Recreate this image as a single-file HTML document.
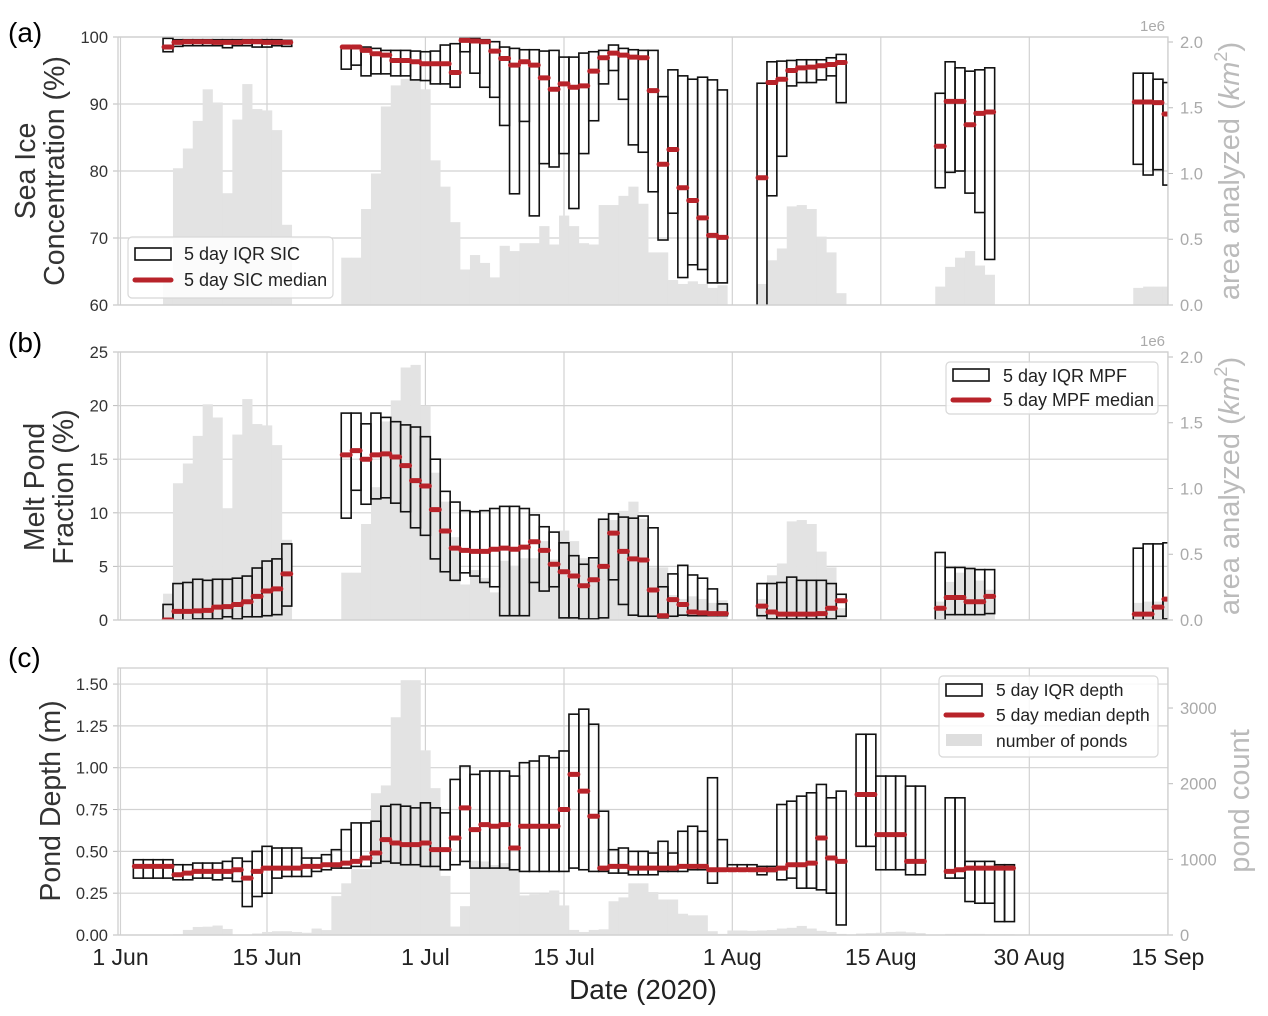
<!DOCTYPE html>
<html><head><meta charset="utf-8">
<style>
html,body{margin:0;padding:0;background:#fff;}
svg{display:block;font-family:"Liberation Sans",Arial,sans-serif;}
</style></head>
<body>
<svg id="fig" width="1268" height="1016" viewBox="0 0 1268 1016" xmlns="http://www.w3.org/2000/svg">
<defs>
<clipPath id="clipA"><rect x="118" y="37" width="1050" height="268"/></clipPath>
<clipPath id="clipB"><rect x="118" y="352" width="1050" height="268"/></clipPath>
<clipPath id="clipC"><rect x="118" y="668" width="1050" height="267"/></clipPath>
</defs>
<g id="root"></g>
</svg>
<script>
// ---------- shared x axis ----------
const tickLabels = ["1 Jun","15 Jun","1 Jul","15 Jul","1 Aug","15 Aug","30 Aug","15 Sep"];
const tickDays = [-0.8,14,30,44,61,76,91,105];

// ---------- panel (a) SIC ----------
const sicDays = [4,5,6,7,8,9,10,11,12,13,14,15,16,
 22,23,24,25,26,27,28,29,30,31,32,33,34,35,36,37,38,39,40,41,42,43,44,45,46,47,48,49,50,51,52,53,54,55,56,57,58,59,60,
 64,65,66,67,68,69,70,71,72, 82,83,84,85,86,87, 102,103,104,105];
const sicQ3 = [99.8,99.6,99.6,99.6,99.6,99.6,99.6,99.6,99.6,99.6,99.6,99.6,99.5,
 98.6,98.6,98.5,98.3,98.0,98.0,98.0,97.9,97.8,97.9,98.8,99.0,99.8,99.8,99.6,99.3,98.5,98.3,98.1,98.1,97.9,98.0,97.0,97.0,97.6,97.8,98.0,98.8,
 98.3,98.1,98.0,98.0,91.1,95.1,94.2,93.7,94.0,93.6,92.1,
 93.1,96.3,96.4,96.5,96.6,96.6,96.6,96.9,97.4, 91.6,96.3,95.4,94.9,95.1,95.4, 94.6,94.6,93.7,93.2];
const sicQ1 = [97.8,98.6,98.7,98.7,98.7,98.7,98.4,98.7,98.7,98.5,98.5,98.7,98.6,
 95.2,95.8,94.2,94.5,94.5,94.2,94.2,93.6,93.5,93.0,93.0,92.5,97.8,94.6,92.5,91.0,86.8,76.6,87.4,73.3,81.1,80.6,82.6,74.4,82.6,87.5,93.0,95.0,
 90.7,83.9,82.8,76.9,69.7,73.7,64.1,66.0,65.3,63.3,63.3,
 55,76.3,82.2,92.7,93.2,93.2,93.6,94.2,90.2, 77.5,79.8,80.0,76.7,73.8,66.8, 81.0,79.4,80.2,77.9];
const sicMed = [98.5,99.2,99.3,99.3,99.3,99.2,99.2,99.2,99.3,99.3,99.2,99.2,99.2,
 98.5,98.5,98.0,97.5,97.3,96.5,96.5,96.3,96.0,96.0,96.0,94.7,99.5,99.4,99.3,97.9,96.8,95.8,96.3,95.8,93.9,92.2,93.0,92.5,92.7,94.9,96.9,97.6,
 97.3,97.0,96.9,92.0,81.0,83.2,77.5,75.6,73.0,70.4,70.1,
 79.0,93.2,93.7,95.0,95.4,95.5,95.7,95.9,96.2, 83.7,90.4,90.4,86.9,88.6,88.8, 90.3,90.3,90.2,88.5];
const areaA = [0.20,1.04,1.19,1.40,1.64,1.54,0.85,1.41,1.68,1.49,1.48,1.33,0.61,
 0.36,0.36,0.73,1.00,1.51,1.67,1.72,1.71,1.64,1.10,0.90,0.63,0.27,0.38,0.32,0.21,0.45,0.41,0.47,0.47,0.60,0.46,0.68,0.60,0.47,0.46,0.76,0.76,0.83,0.90,0.77,0.40,0.40,0.19,0.16,0.18,0.16,0.13,0.15,
 0.16,0.34,0.43,0.75,0.76,0.73,0.52,0.40,0.09, 0.14,0.29,0.36,0.41,0.30,0.23, 0.13,0.14,0.14,0.14];

// ---------- panel (b) MPF ----------
const mpfQ3 = [1.45,3.4,3.5,3.8,3.7,3.8,3.8,3.9,4.1,4.85,5.5,5.7,7.1,
 19.3,19.3,18.3,19.3,18.9,18.5,18.2,18.0,17.1,15.0,12.0,11.0,10.2,10.1,10.2,10.4,10.6,10.6,10.4,9.8,8.7,8.2,7.2,6.0,5.2,5.8,9.4,9.9,9.6,9.5,9.7,8.6,3.1,4.3,5.1,4.2,3.9,2.9,1.5,
 3.4,3.4,3.5,4.0,3.7,3.7,3.7,3.4,2.4, 6.3,4.9,4.9,4.8,4.7,4.7, 6.7,7.1,7.1,7.2];
const mpfQ1 = [0,0,0,0.1,0.1,0.1,0.3,0.1,0.3,0.3,0.4,0.5,1.3,
 9.5,12.1,10.8,11.3,11.4,10.9,10.1,8.6,7.9,5.7,4.5,3.7,4.4,4.1,3.5,3.1,0.4,0.4,0.4,3.5,2.7,3.1,0.2,0.2,0.1,0.1,0.2,3.75,1.45,0.45,0.35,0.35,0.2,0.35,0.45,0.4,0.4,0.4,0.4,
 0.4,0.1,0.1,0.1,0.1,0.1,0.1,0.1,0.35, 0.0,0.5,0.5,0.5,0.5,0.6, 0,0,0,0.1];
const mpfMed = [0,0.8,0.8,0.85,0.9,1.2,1.25,1.45,1.7,2.2,2.7,2.9,4.3,
 15.4,15.8,15.0,15.4,15.5,15.2,14.4,13.0,12.5,10.3,8.3,6.7,6.5,6.4,6.4,6.6,6.7,6.6,6.8,7.3,6.5,5.2,4.5,4.1,3.2,3.75,5.0,8.1,6.4,5.7,5.6,2.8,0.4,1.9,1.45,0.75,0.66,0.6,0.6,
 1.3,0.75,0.55,0.55,0.55,0.55,0.6,1.1,1.8, 1.1,2.1,2.1,1.7,1.7,2.2, 0.55,0.55,1.2,1.95];
const areaB = [0.20,1.04,1.19,1.40,1.64,1.54,0.85,1.41,1.68,1.49,1.48,1.33,0.61,
 0.36,0.36,0.73,1.01,1.51,1.67,1.92,1.94,1.63,1.12,0.90,0.63,0.27,0.38,0.32,0.21,0.45,0.41,0.47,0.47,0.60,0.46,0.68,0.60,0.47,0.46,0.76,0.76,0.83,0.90,0.77,0.40,0.40,0.19,0.16,0.18,0.16,0.13,0.15,
 0.16,0.34,0.43,0.75,0.76,0.73,0.52,0.40,0.09, 0.14,0.29,0.36,0.41,0.30,0.23, 0.13,0.14,0.14,0.14];

// ---------- panel (c) depth ----------
const depDays = [1,2,3,4,5,6,7,8,9,10,11,12,13,14,15,16,17,18,19,20,21,22,23,24,25,26,27,28,29,30,31,32,33,34,35,36,
 37,38,39,40,41,42,43,44,45,46,47,48,49,50,51,52,53,54,55,56,57,58,59,60,61,62,63,64,65,66,67,68,69,70,71,72,
 74,75,76,77,78,79,80, 83,84,85,86,87,88,89];
const depQ3 = [0.45,0.45,0.45,0.45,0.42,0.42,0.43,0.43,0.43,0.44,0.46,0.44,0.50,0.53,0.52,0.52,0.52,0.46,0.46,0.48,0.51,0.63,0.67,0.67,0.68,0.77,0.78,0.77,0.76,0.79,0.76,0.73,0.93,1.01,0.96,0.98,
 0.98,0.98,0.95,1.03,1.04,1.07,1.06,1.10,1.32,1.35,1.26,0.74,0.51,0.52,0.50,0.50,0.49,0.56,0.49,0.62,0.65,0.62,0.94,0.57,0.42,0.42,0.42,0.41,0.41,0.78,0.80,0.83,0.85,0.90,0.82,0.86,
 1.20,1.20,0.95,0.95,0.95,0.89,0.89, 0.82,0.82,0.44,0.44,0.44,0.42,0.42];
const depQ1 = [0.34,0.34,0.34,0.34,0.33,0.33,0.34,0.34,0.33,0.34,0.32,0.17,0.23,0.25,0.34,0.35,0.35,0.35,0.38,0.39,0.40,0.40,0.41,0.41,0.43,0.44,0.43,0.42,0.42,0.41,0.41,0.39,0.42,0.44,0.40,0.40,
 0.40,0.40,0.39,0.38,0.38,0.38,0.38,0.38,0.40,0.39,0.38,0.38,0.37,0.37,0.36,0.36,0.36,0.38,0.38,0.38,0.39,0.39,0.31,0.39,0.39,0.39,0.39,0.36,0.38,0.33,0.34,0.28,0.28,0.27,0.25,0.06,
 0.53,0.53,0.39,0.39,0.39,0.36,0.36, 0.34,0.34,0.20,0.19,0.19,0.08,0.08];
const depMed = [0.41,0.41,0.41,0.41,0.36,0.37,0.38,0.38,0.38,0.38,0.39,0.34,0.38,0.40,0.40,0.40,0.40,0.41,0.41,0.42,0.42,0.43,0.44,0.46,0.49,0.57,0.55,0.54,0.54,0.55,0.51,0.51,0.58,0.76,0.63,0.66,
 0.65,0.66,0.52,0.65,0.65,0.65,0.65,0.75,0.96,0.86,0.71,0.40,0.41,0.41,0.40,0.40,0.40,0.40,0.40,0.41,0.41,0.41,0.39,0.39,0.39,0.39,0.39,0.39,0.39,0.40,0.42,0.42,0.43,0.58,0.46,0.44,
 0.84,0.84,0.60,0.60,0.60,0.44,0.44, 0.38,0.39,0.40,0.40,0.40,0.40,0.40];
const pondCount = [5,5,5,5,10,67,106,110,125,80,5,5,20,40,50,50,40,30,85,65,514,683,871,871,1874,1977,2878,3368,3368,2441,1941,781,112,381,982,972,
 925,950,871,523,540,545,589,391,67,40,67,75,446,497,683,683,568,469,469,281,260,260,50,15,60,60,55,60,65,85,95,120,85,55,40,15,
 20,25,30,40,45,35,25, 15,15,15,15,10,10,10];

// ---------- drawing ----------
const NS = "http://www.w3.org/2000/svg";
const root = document.getElementById("root");
const X0 = 118, X1 = 1168;
function xs(d){ return 128.4 + 9.9*d; }
function mk(tag, attrs, parent){
  const e = document.createElementNS(NS, tag);
  for (const k in attrs) e.setAttribute(k, attrs[k]);
  (parent||root).appendChild(e);
  return e;
}
function txt(s, attrs, parent){ const t = mk("text", attrs, parent); t.textContent = s; return t; }

function panel(cfg){
  const g = mk("g", {});
  
  
  const T = cfg.top, B = cfg.bottom;
  const ys = v => B - (v - cfg.ymin) / (cfg.ymax - cfg.ymin) * (B - T);
  const yr = v => B - v / cfg.rmax * (B - T);
  cfg.yticks.forEach((v,i) => {
    const y = ys(v);
    const l = mk("line", {x1:X0, x2:X1, y1:y, y2:y, stroke:"#d2d2d2", "stroke-width":1.2}, g);
    
    
    mk("line", {x1:X0-5, x2:X0, y1:y, y2:y, stroke:"#bbb", "stroke-width":1}, g);
    const t = txt(cfg.ylabels[i], {x:X0-10, y:y+6, "text-anchor":"end", "font-size":16.5, fill:"#333"}, g);
    
    
  });
  tickDays.forEach(d => {
    const x = xs(d);
    const l = mk("line", {x1:x, x2:x, y1:T, y2:B, stroke:"#d2d2d2", "stroke-width":1.2}, g);
    
    
  });
  cfg.rticks.forEach((v,i) => {
    const y = yr(v);
    mk("line", {x1:X1, x2:X1+5, y1:y, y2:y, stroke:"#bbb", "stroke-width":1}, g);
    const t = txt(cfg.rlabels[i], {x:X1+12, y:y+6, "font-size":16.5, fill:"#aaa"}, g);
    
    
  });
  const dg = mk("g", {"clip-path":"url(#"+cfg.clip+")"}, g);
  cfg.days.forEach((d,i) => {
    const x = xs(d-0.5), y = yr(cfg.area[i]);
    const r = mk("rect", {x:x, y:y, width:9.9+0.3, height:B-y, fill:"#e3e3e3"}, dg);
    
    
  });
  cfg.days.forEach((d,i) => {
    const x = xs(d-0.5), y1 = ys(cfg.q3[i]), y2 = ys(cfg.q1[i]);
    const r = mk("rect", {x:x, y:y1, width:9.9, height:Math.max(0.5,y2-y1), fill:"none", stroke:"#111", "stroke-width":1.6}, dg);
    
    
  });
  cfg.days.forEach((d,i) => {
    const y = ys(cfg.med[i]);
    const l = mk("line", {x1:xs(d-0.5)+1, x2:xs(d+0.5)-1, y1:y, y2:y, stroke:"#b8232a", "stroke-width":5, "stroke-linecap":"round"}, dg);
    
    
  });
  mk("rect", {x:X0, y:T, width:X1-X0, height:B-T, fill:"none", stroke:"#cfcfcf", "stroke-width":1.3}, g);
  return g;
}

panel({name:"panel-a-sea-ice", top:37, bottom:305, ymin:60, ymax:100, rmax:2.038, clip:"clipA",
  yticks:[60,70,80,90,100], ylabels:["60","70","80","90","100"],
  rticks:[0,0.5,1,1.5,2], rlabels:["0.0","0.5","1.0","1.5","2.0"],
  days:sicDays, q3:sicQ3, q1:sicQ1, med:sicMed, area:areaA});
panel({name:"panel-b-melt-pond", top:352, bottom:620, ymin:0, ymax:25, rmax:2.038, clip:"clipB",
  yticks:[0,5,10,15,20,25], ylabels:["0","5","10","15","20","25"],
  rticks:[0,0.5,1,1.5,2], rlabels:["0.0","0.5","1.0","1.5","2.0"],
  days:sicDays, q3:mpfQ3, q1:mpfQ1, med:mpfMed, area:areaB});
panel({name:"panel-c-pond-depth", top:668, bottom:935, ymin:0, ymax:1.596, rmax:3529, clip:"clipC",
  yticks:[0,0.25,0.5,0.75,1,1.25,1.5], ylabels:["0.00","0.25","0.50","0.75","1.00","1.25","1.50"],
  rticks:[0,1000,2000,3000], rlabels:["0","1000","2000","3000"],
  days:depDays, q3:depQ3, q1:depQ1, med:depMed, area:pondCount});

tickDays.forEach((d,i) => {
  const t = txt(tickLabels[i], {x:xs(d), y:965, "text-anchor":"middle", "font-size":23, fill:"#222"});
  
  
});
</script>
<script>
(function(){
const NS="http://www.w3.org/2000/svg";
const root=document.getElementById("root");
function el(tag,attrs,text){const e=document.createElementNS(NS,tag);for(const k in attrs)e.setAttribute(k,attrs[k]);if(text!==undefined)e.textContent=text;root.appendChild(e);return e;}
let e;
e=el("text",{x:643,y:999,"text-anchor":"middle","font-size":28,fill:"#222"},"Date (2020)");


e=el("text",{x:8,y:42,"font-size":28,fill:"#000"},"(a)");


e=el("text",{x:8,y:352,"font-size":28,fill:"#000"},"(b)");


e=el("text",{x:8,y:667,"font-size":28,fill:"#000"},"(c)");


e=el("text",{transform:"translate(35,171) rotate(-90)","text-anchor":"middle","font-size":28.5,fill:"#333"},"Sea Ice");


e=el("text",{transform:"translate(64,171) rotate(-90)","text-anchor":"middle","font-size":28.5,fill:"#333"},"Concentration (%)");


e=el("text",{transform:"translate(44,487) rotate(-90)","text-anchor":"middle","font-size":28.5,fill:"#333"},"Melt Pond");


e=el("text",{transform:"translate(73,487) rotate(-90)","text-anchor":"middle","font-size":28.5,fill:"#333"},"Fraction (%)");


e=el("text",{transform:"translate(60,801) rotate(-90)","text-anchor":"middle","font-size":28.5,fill:"#333"},"Pond Depth (m)");


[[171,'right-axis-title-a'],[486,'right-axis-title-b']].forEach(function(p){
  const t=el("text",{transform:"translate(1239,"+p[0]+") rotate(-90)","text-anchor":"middle","font-size":29,fill:"#bbb"});
  
  
  const a=document.createElementNS(NS,"tspan");a.textContent="area analyzed (";t.appendChild(a);
  const b=document.createElementNS(NS,"tspan");b.setAttribute("font-style","italic");b.textContent="km";t.appendChild(b);
  const c=document.createElementNS(NS,"tspan");c.setAttribute("font-size","18");c.setAttribute("dy","-12");c.textContent="2";t.appendChild(c);
  const d=document.createElementNS(NS,"tspan");d.setAttribute("dy","12");d.textContent=")";t.appendChild(d);
});
e=el("text",{transform:"translate(1249,801) rotate(-90)","text-anchor":"middle","font-size":29,fill:"#bbb"},"pond count");


e=el("text",{x:1140,y:31,"font-size":15,fill:"#aaa"},"1e6");


e=el("text",{x:1140,y:346,"font-size":15,fill:"#aaa"},"1e6");


e=el("rect",{x:128,y:237,width:205,height:61,rx:4,fill:"#fff","fill-opacity":0.85,stroke:"#d8d8d8","stroke-width":1.2});


el("rect",{x:135,y:248,width:36,height:12,fill:"none",stroke:"#111","stroke-width":1.6});
el("text",{x:184,y:260,"font-size":18,fill:"#222"},"5 day IQR SIC");
el("line",{x1:135,x2:171,y1:280,y2:280,stroke:"#b8232a","stroke-width":5,"stroke-linecap":"round"});
el("text",{x:184,y:286,"font-size":18,fill:"#222"},"5 day SIC median");
e=el("rect",{x:946,y:362,width:212,height:52,rx:4,fill:"#fff","fill-opacity":0.85,stroke:"#d8d8d8","stroke-width":1.2});


el("rect",{x:953,y:369,width:36,height:12,fill:"none",stroke:"#111","stroke-width":1.6});
el("text",{x:1003,y:382,"font-size":18,fill:"#222"},"5 day IQR MPF");
el("line",{x1:953,x2:989,y1:400,y2:400,stroke:"#b8232a","stroke-width":5,"stroke-linecap":"round"});
el("text",{x:1003,y:406,"font-size":18,fill:"#222"},"5 day MPF median");
e=el("rect",{x:939,y:676,width:219,height:81,rx:4,fill:"#fff","fill-opacity":0.85,stroke:"#d8d8d8","stroke-width":1.2});


el("rect",{x:946,y:684,width:36,height:12,fill:"none",stroke:"#111","stroke-width":1.6});
el("text",{x:996,y:696,"font-size":17.5,fill:"#222"},"5 day IQR depth");
el("line",{x1:946,x2:982,y1:715,y2:715,stroke:"#b8232a","stroke-width":5,"stroke-linecap":"round"});
el("text",{x:996,y:721,"font-size":17.5,fill:"#222"},"5 day median depth");
el("rect",{x:946,y:734,width:36,height:12,fill:"#dedede"});
el("text",{x:996,y:747,"font-size":17.5,fill:"#222"},"number of ponds");
})();
</script>
</body></html>
